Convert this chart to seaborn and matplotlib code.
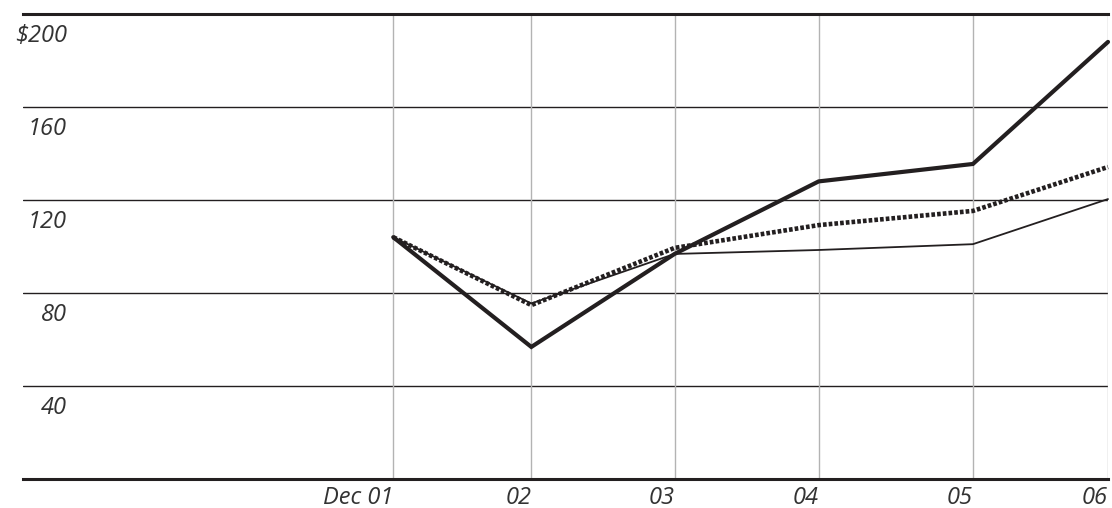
import matplotlib
matplotlib.use("Agg")
import matplotlib.pyplot as plt
import seaborn as sns
import pandas as pd

# Data
x_labels = ["Dec 01", "02", "03", "04", "05", "06"]
x_pos = [0.0, 0.966, 1.968, 2.976, 4.055, 5.0]
series_thick = [104, 56.8, 96.8, 128, 135.5, 188]
series_dotted = [104, 74.8, 99.4, 109.2, 115.3, 134.2]
series_thin = [104, 75.5, 96.8, 98.5, 101, 120.4]
y_ticks = [40, 80, 120, 160, 200]
y_labels = ["40", "80", "120", "160", "$200"]

sns.set_style("white")
plt.rcParams['font.family'] = ['Open Sans', 'DejaVu Sans']

fig = plt.figure(figsize=(11.12, 5.08), dpi=100)
ax = fig.add_axes([23/1112, 29/508, 1085/1112, 465/508])

dark = "#231f20"
df_thin = pd.DataFrame({"x": x_pos, "y": series_thin})
df_dot = pd.DataFrame({"x": x_pos, "y": series_dotted})
df_thick = pd.DataFrame({"x": x_pos, "y": series_thick})

sns.lineplot(data=df_thin, x="x", y="y", ax=ax, color=dark, linewidth=1.3, clip_on=False, zorder=3)
sns.lineplot(data=df_dot, x="x", y="y", ax=ax, color=dark, linewidth=3.3,
             linestyle=(0, (0.8, 0.45)), dash_capstyle="butt", clip_on=False, zorder=4)
sns.lineplot(data=df_thick, x="x", y="y", ax=ax, color=dark, linewidth=3.0,
             solid_joinstyle="miter", clip_on=False, zorder=5)

ax.set_xlim(-2.59, 5.0)
ax.set_ylim(0, 200)

# horizontal gridlines
for v in y_ticks[:-1]:
    ax.axhline(v, color=dark, linewidth=1.0, zorder=1)
# vertical gridlines
for xp in x_pos:
    ax.axvline(xp, color="#b3b3b3", linewidth=1.0, zorder=1)

for s in ["left", "right"]:
    ax.spines[s].set_visible(False)
for s in ["top", "bottom"]:
    ax.spines[s].set_visible(True)
    ax.spines[s].set_color(dark)
    ax.spines[s].set_linewidth(2.2)

ax.set_yticks([])
ax.set_xticks(x_pos)
ax.set_xticklabels(x_labels, fontsize=17, style="italic", color="#333333", ha="right")
ax.tick_params(axis="x", length=0, pad=5)
ax.set_xlabel("")
ax.set_ylabel("")

for v, lab in zip(y_ticks, y_labels):
    ax.annotate(lab, xy=((67-23)/1085, v), xycoords=("axes fraction", "data"),
                xytext=(0, -16), textcoords="offset points",
                ha="right", va="center", fontsize=17, style="italic", color="#333333")

fig.savefig("out.png", dpi=100)
